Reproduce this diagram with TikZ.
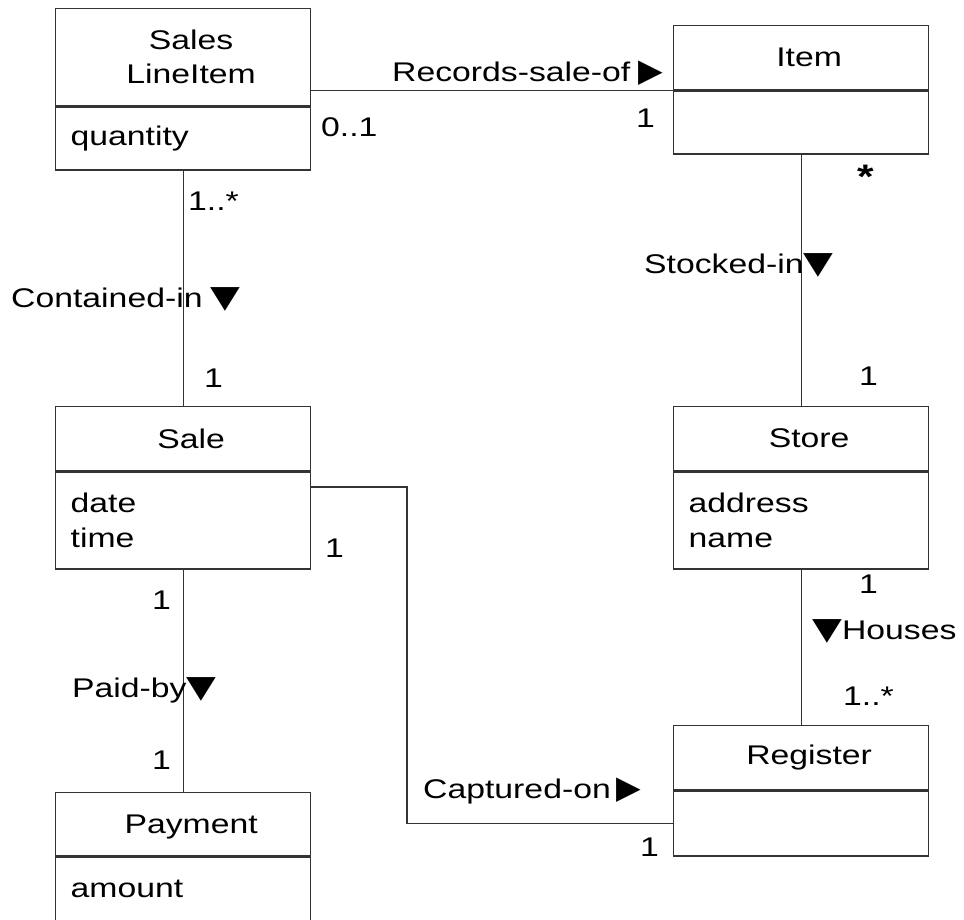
\documentclass[tikz,border=0pt]{standalone}
\usepackage{fontspec}
\setmainfont{Liberation Sans}[FakeStretch=1.25]
\newfontfamily\trifont{DejaVu Sans}[FakeStretch=1.25]
\newfontfamily\trifontr{DejaVu Sans}
\usetikzlibrary{positioning}
\newcommand{\dtri}{{\trifont\fontsize{31}{31}\selectfont ▼}}
\newcommand{\rtri}{{\trifontr\fontsize{32}{32}\selectfont ▶}}
\newcommand{\hd}{\hspace*{16pt}}
\tikzset{
  every node/.style={font=\fontsize{27}{34}\selectfont},
  classhead/.style={draw=black!80, line width=1.3pt, minimum width=255pt,
    text width=225pt, inner xsep=15pt, inner ysep=0pt, align=center,
    anchor=north west},
  classattr/.style={draw=black!80, line width=1.3pt, minimum width=255pt,
    text width=225pt, inner xsep=15pt, inner ysep=0pt, align=left,
    font=\fontsize{27}{35}\selectfont},
  mult/.style={anchor=base west, inner sep=0pt},
  assoc/.style={draw=black!80, line width=1.3pt}
}
\begin{document}
\begin{tikzpicture}[x=1pt,y=-1pt]
  \useasboundingbox (0,0) rectangle (964,920);
  % classes
  \node[classhead, minimum height=97pt] (slihead) at (55,8) {\hd Sales\\\hd LineItem};
  \node[classattr, minimum height=63pt, below=0pt of slihead] (sliattr) {quantity};
  \node[classhead, minimum height=64pt] (itemhead) at (673,25) {\hd Item};
  \node[classattr, minimum height=63pt, below=0pt of itemhead] (itemattr) {};
  \node[classhead, minimum height=64pt] (salehead) at (55,406) {\hd Sale};
  \node[classattr, minimum height=97pt, below=0pt of salehead] (saleattr) {date\\time};
  \node[classhead, minimum height=64pt] (storehead) at (673,406) {\hd Store};
  \node[classattr, minimum height=97pt, below=0pt of storehead] (storeattr) {address\\name};
  \node[classhead, minimum height=64pt] (reghead) at (673,725) {\hd Register};
  \node[classattr, minimum height=65pt, below=0pt of reghead] (regattr) {};
  \node[classhead, minimum height=63pt] (payhead) at (55,792) {\hd\raisebox{-3pt}[\height][\depth]{Payment}};
  \node[classattr, minimum height=72pt, below=0pt of payhead] (payattr) {\raisebox{4pt}[\height][\depth]{amount}};
  % associations
  \draw[assoc] (itemhead.south west -| slihead.east) -- (itemhead.south west);
  \draw[assoc] (sliattr.south) -- (salehead.north);
  \draw[assoc] (itemattr.south) -- (storehead.north);
  \draw[assoc] (storeattr.south) -- (reghead.north);
  \draw[assoc] (saleattr.south) -- (payhead.north);
  \coordinate (capbend) at (407,487);
  \draw[assoc] (capbend -| saleattr.east) -- (capbend) |- (regattr.west);
  % labels
  \node[mult] (recname) at (392,82) {Records-sale-of\hspace{8pt}\rtri};
  \node[mult] (recsli) at (321,137) {0..1};
  \node[mult] (recitem) at (636,128) {1};
  \node[mult] (consli) at (188,211) {1..*};
  \node[mult] (conname) at (11,307) {Contained-in\hspace{8pt}\dtri};
  \node[mult] (consale) at (204,387) {1};
  \node[mult] (stoitem) at (857,189) {\fontsize{34}{34}\selectfont\bfseries *};
  \node[mult] (stoname) at (644,273) {Stocked-in\dtri};
  \node[mult] (stostore) at (859,385) {1};
  \node[mult] (houstore) at (859,593) {1};
  \node[mult] (houname) at (812,639) {\dtri Houses};
  \node[mult] (houreg) at (843,705) {1..*};
  \node[mult] (capsale) at (325,557) {1};
  \node[mult] (capname) at (423,798) {Captured-on\hspace{6pt}\rtri};
  \node[mult] (capreg) at (640,856) {1};
  \node[mult] (paysale) at (152,609) {1};
  \node[mult] (payname) at (72,697) {Paid-by\dtri};
  \node[mult] (paypay) at (152,769) {1};
\end{tikzpicture}
\end{document}
